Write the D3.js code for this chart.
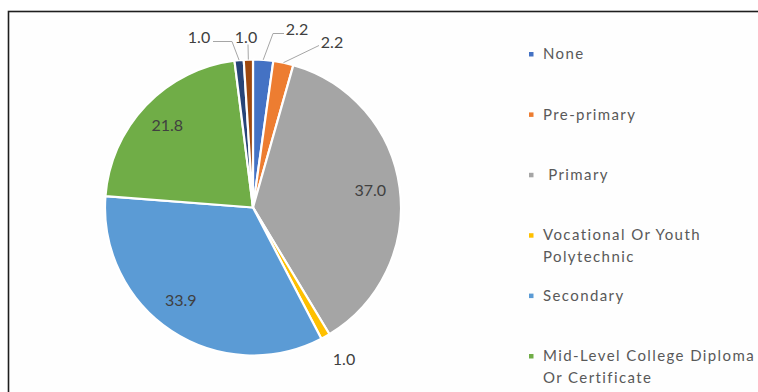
<!DOCTYPE html>
<html>
<head>
<meta charset="utf-8">
<script src="https://cdn.jsdelivr.net/npm/d3@7"></script>
<style>
  html, body { margin: 0; padding: 0; background: #ffffff; }
  svg { display: block; }
  text { font-family: Lato, "Open Sans", sans-serif; }
</style>
</head>
<body>
<svg id="chart" width="758" height="392"></svg>
<script>
// Highest level of education attained (percent of respondents)
const categories = [
  "None",
  "Pre-primary",
  " Primary",
  "Vocational Or Youth Polytechnic",
  "Secondary",
  "Mid-Level College Diploma Or Certificate",
  "University Degree",
  "Other"
];
const values = [2.2, 2.2, 37.0, 1.0, 33.9, 21.8, 1.0, 1.0];
const valueLabels = ["2.2", "2.2", "37.0", "1.0", "33.9", "21.8", "1.0", "1.0"];
const sliceColors = ["#4472C4", "#ED7D31", "#A5A5A5", "#FFC000", "#5B9BD5", "#70AD47", "#264478", "#9E480E"];

// legend entries that fit in the legend box, wrapped onto lines
const legendLines = [
  ["None"],
  ["Pre-primary"],
  [" Primary"],
  ["Vocational Or Youth", "Polytechnic"],
  ["Secondary"],
  ["Mid-Level College Diploma", "Or Certificate"]
];

const svg = d3.select("#chart");
const W = 758, H = 392;

// chart frame
svg.append("rect")
  .attr("x", 8.5).attr("y", 11.5)
  .attr("width", W + 20).attr("height", H + 20)
  .attr("fill", "#fefefe")
  .attr("stroke", "#1e1e1e")
  .attr("stroke-width", 1.6);

const cx = 253, cy = 207.5, R = 148;

const pie = d3.pie().sort(null).value(d => d);
const arcs = pie(values);
const arc = d3.arc().innerRadius(0).outerRadius(R);
const color = d3.scaleOrdinal().domain(d3.range(values.length)).range(sliceColors);

const g = svg.append("g").attr("transform", `translate(${cx},${cy})`);

g.selectAll("path.slice")
  .data(arcs)
  .join("path")
  .attr("class", "slice")
  .attr("d", arc)
  .attr("fill", (d, i) => color(i))
  .attr("stroke", "#ffffff")
  .attr("stroke-width", 2.2)
  .attr("stroke-linejoin", "round");

// labels inside the large slices (best-fit nudges per slice)
const inner = d3.arc().innerRadius(R * 0.8).outerRadius(R * 0.8);
const insideNudge = { 2: [0, -1], 4: [-7, -6], 5: [0, 0] };
g.selectAll("text.inside")
  .data(arcs.filter((d, i) => i in insideNudge))
  .join("text")
  .attr("class", "inside")
  .attr("transform", d => {
    const [x, y] = inner.centroid(d);
    const [nx, ny] = insideNudge[d.index];
    return `translate(${x + nx},${y + ny})`;
  })
  .attr("text-anchor", "middle")
  .attr("dy", "0.35em")
  .attr("font-size", 16)
  .attr("fill", "#404040")
  .text(d => valueLabels[d.index]);

// labels outside the thin slices, with leader lines to the rim
const edge = d3.arc().innerRadius(R).outerRadius(R);
const outsideLayout = {
  6: { label: [-54, -170], path: [[-40, -166], [-21, -166]] },
  7: { label: [-7, -170], path: [[-5, -163]] },
  0: { label: [44, -178], path: [[31, -174], [20, -174]] },
  1: { label: [79, -165], path: [[66, -162]] },
  3: { label: [91, 152], path: null }
};

Object.keys(outsideLayout).forEach(k => {
  const i = +k;
  const d = arcs[i];
  const L = outsideLayout[k];
  if (L.path) {
    const pts = L.path.concat([edge.centroid(d)]);
    g.append("path")
      .attr("d", d3.line()(pts))
      .attr("fill", "none")
      .attr("stroke", "#a6a6a6")
      .attr("stroke-width", 1);
  }
  g.append("text")
    .attr("x", L.label[0]).attr("y", L.label[1])
    .attr("text-anchor", "middle")
    .attr("dy", "0.35em")
    .attr("font-size", 16)
    .attr("fill", "#404040")
    .text(valueLabels[i]);
});

// legend
const lx = 531, ly0 = 54, lstep = 60.4, lineH = 22;
const legend = svg.append("g");
legendLines.forEach((lines, i) => {
  const y = ly0 + i * lstep;
  legend.append("rect")
    .attr("x", lx - 2).attr("y", y - 2)
    .attr("width", 4.5).attr("height", 4.5)
    .attr("fill", color(i));
  const t = legend.append("text")
    .attr("x", lx + 12).attr("y", y)
    .attr("font-size", 15)
    .attr("letter-spacing", 1.4)
    .attr("fill", "#595959")
    .attr("xml:space", "preserve")
    .style("white-space", "pre");
  lines.forEach((s, j) => {
    t.append("tspan")
      .attr("x", lx + 12)
      .attr("y", y + j * lineH)
      .attr("dy", "0.35em")
      .text(s);
  });
});
</script>
</body>
</html>
